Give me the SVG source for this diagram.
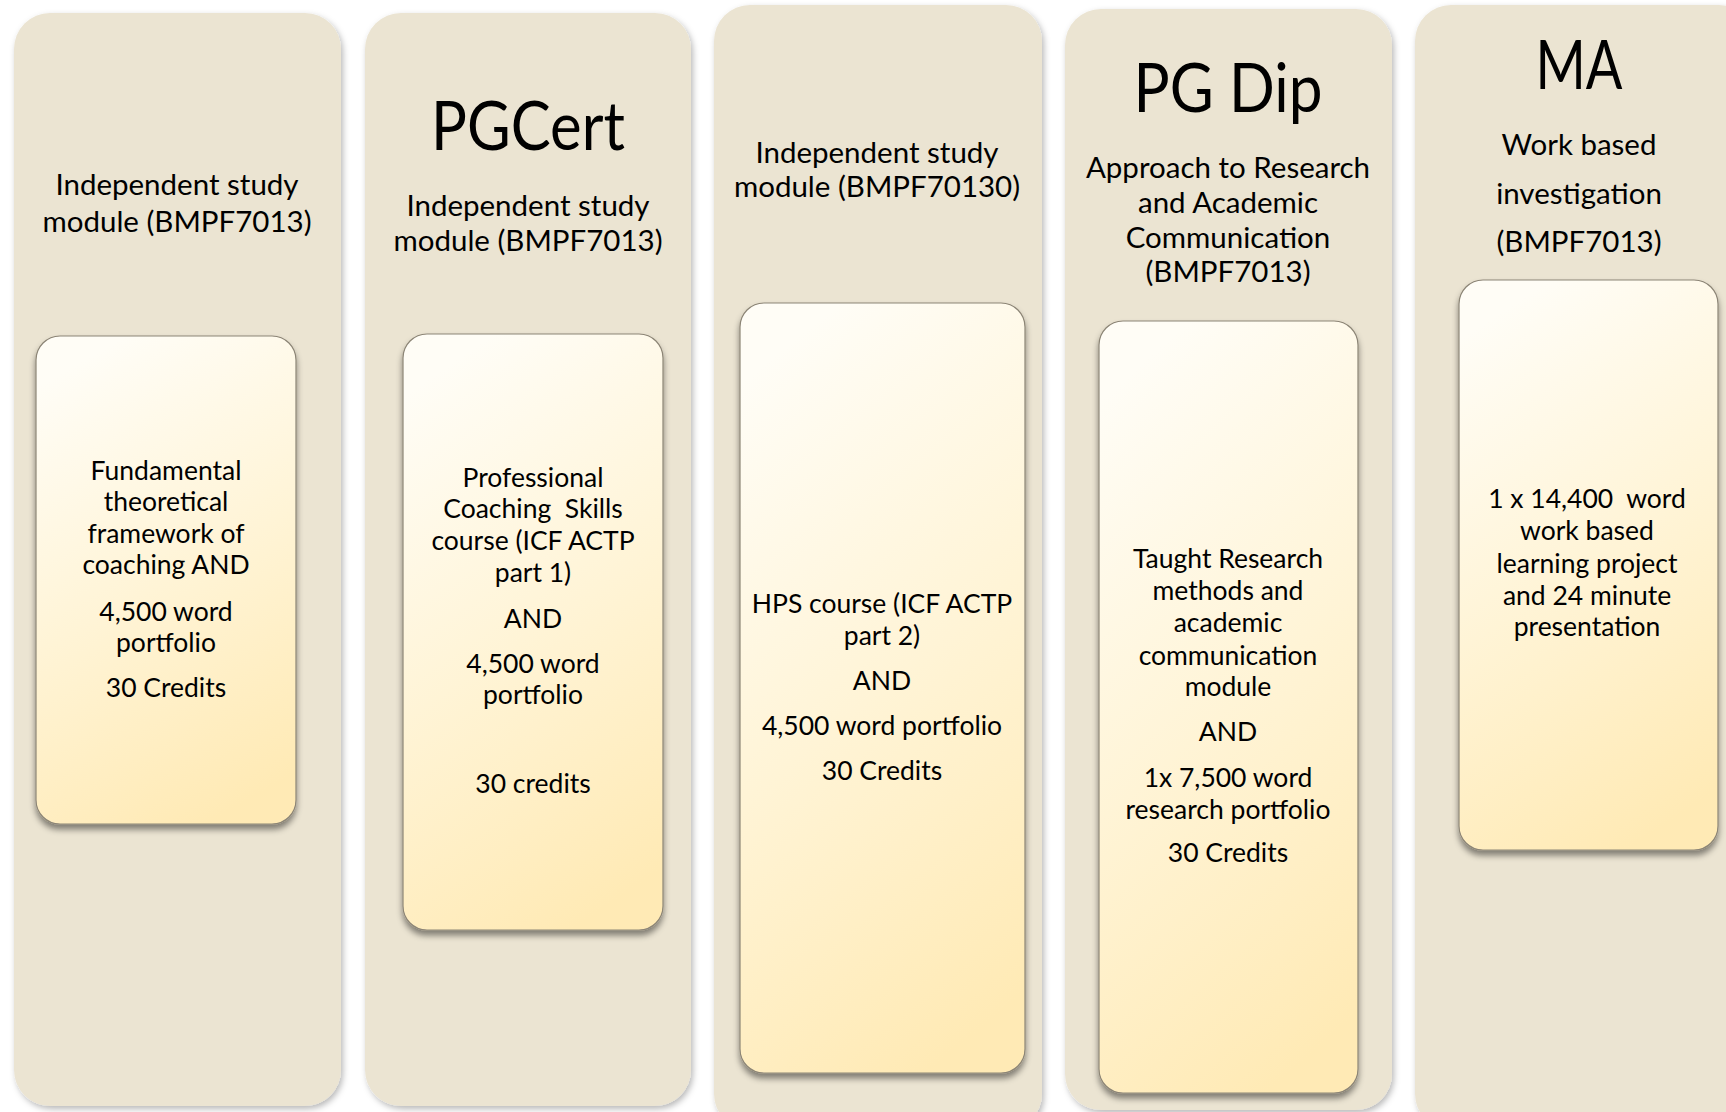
<svg xmlns="http://www.w3.org/2000/svg" width="1726" height="1112" viewBox="0 0 1726 1112">
<defs>
<linearGradient id="innerGrad" x1="0.35" y1="0" x2="0.65" y2="1">
<stop offset="0" stop-color="#FFFDF6"/>
<stop offset="0.5" stop-color="#FFF4D6"/>
<stop offset="1" stop-color="#FFEAB5"/>
</linearGradient>
<filter id="outerShadow" x="-10%" y="-5%" width="120%" height="110%">
<feDropShadow dx="2" dy="3" stdDeviation="3" flood-color="#000" flood-opacity="0.28"/>
</filter>
<filter id="innerShadow" x="-10%" y="-5%" width="120%" height="112%">
<feDropShadow dx="0" dy="5" stdDeviation="3" flood-color="#000" flood-opacity="0.45"/>
</filter>
</defs>
<style>
.col{fill:#EBE4D2;filter:url(#outerShadow);}
.box{fill:url(#innerGrad);stroke:#8C8576;stroke-width:1.2;filter:url(#innerShadow);}
text{font-family:Lato,"Open Sans","Liberation Sans",sans-serif;fill:#000;text-anchor:middle;}
.hd{font-size:29.5px;}
.tx{font-size:26.5px;}
.ttl{font-size:67px;}
</style>
<rect width="1726" height="1112" fill="#FFFFFF"/>
<g id="connectors"></g>

<g id="col1">
<rect class="col" x="14" y="13" width="327" height="1093" rx="36"/>
<text class="hd" x="177" y="195">Independent study</text>
<text class="hd" x="177" y="232">module (BMPF7013)</text>
<g id="box1">
<rect class="box" x="36" y="336" width="260" height="488" rx="24"/>
<text class="tx" x="166" y="480">Fundamental</text>
<text class="tx" x="166" y="511">theoretical</text>
<text class="tx" x="166" y="543">framework of</text>
<text class="tx" x="166" y="574">coaching AND</text>
<text class="tx" x="166" y="621">4,500 word</text>
<text class="tx" x="166" y="652">portfolio</text>
<text class="tx" x="166" y="697">30 Credits</text>
</g>
</g>

<g id="col2">
<rect class="col" x="365" y="13" width="326" height="1093" rx="36"/>
<text class="ttl" x="528" y="150" textLength="194" lengthAdjust="spacingAndGlyphs">PGCert</text>
<text class="hd" x="528" y="216">Independent study</text>
<text class="hd" x="528" y="251">module (BMPF7013)</text>
<g id="box2">
<rect class="box" x="403" y="334" width="260" height="596" rx="24"/>
<text class="tx" x="533" y="487">Professional</text>
<text class="tx" x="533" y="518" xml:space="preserve">Coaching  Skills</text>
<text class="tx" x="533" y="550">course (ICF ACTP</text>
<text class="tx" x="533" y="582">part 1)</text>
<text class="tx" x="533" y="628">AND</text>
<text class="tx" x="533" y="673">4,500 word</text>
<text class="tx" x="533" y="704">portfolio</text>
<text class="tx" x="533" y="793">30 credits</text>
</g>
</g>

<g id="col3">
<rect class="col" x="714" y="5" width="328" height="1125" rx="36"/>
<text class="hd" x="877" y="163">Independent study</text>
<text class="hd" x="877" y="197">module (BMPF70130)</text>
<g id="box3">
<rect class="box" x="740" y="303" width="285" height="770" rx="24"/>
<text class="tx" x="882" y="613">HPS course (ICF ACTP</text>
<text class="tx" x="882" y="645">part 2)</text>
<text class="tx" x="882" y="690">AND</text>
<text class="tx" x="882" y="735">4,500 word portfolio</text>
<text class="tx" x="882" y="780">30 Credits</text>
</g>
</g>

<g id="col4">
<rect class="col" x="1065" y="9" width="327" height="1101" rx="36"/>
<text class="ttl" x="1228" y="112" textLength="189" lengthAdjust="spacingAndGlyphs">PG Dip</text>
<text class="hd" x="1228" y="178">Approach to Research</text>
<text class="hd" x="1228" y="213">and Academic</text>
<text class="hd" x="1228" y="248">Communication</text>
<text class="hd" x="1228" y="282">(BMPF7013)</text>
<g id="box4">
<rect class="box" x="1099" y="321" width="259" height="772" rx="24"/>
<text class="tx" x="1228" y="568">Taught Research</text>
<text class="tx" x="1228" y="600">methods and</text>
<text class="tx" x="1228" y="632">academic</text>
<text class="tx" x="1228" y="665">communication</text>
<text class="tx" x="1228" y="696">module</text>
<text class="tx" x="1228" y="741">AND</text>
<text class="tx" x="1228" y="787">1x 7,500 word</text>
<text class="tx" x="1228" y="819">research portfolio</text>
<text class="tx" x="1228" y="862">30 Credits</text>
</g>
</g>

<g id="col5">
<rect class="col" x="1415" y="5" width="340" height="1125" rx="36"/>
<text class="ttl" x="1579" y="89" textLength="87" lengthAdjust="spacingAndGlyphs">MA</text>
<text class="hd" x="1579" y="155">Work based</text>
<text class="hd" x="1579" y="204">investigation</text>
<text class="hd" x="1579" y="252">(BMPF7013)</text>
<g id="box5">
<rect class="box" x="1459" y="280" width="259" height="570" rx="24"/>
<text class="tx" x="1587" y="508" xml:space="preserve">1 x 14,400  word</text>
<text class="tx" x="1587" y="540">work based</text>
<text class="tx" x="1587" y="573">learning project</text>
<text class="tx" x="1587" y="605">and 24 minute</text>
<text class="tx" x="1587" y="636">presentation</text>
</g>
</g>
</svg>
